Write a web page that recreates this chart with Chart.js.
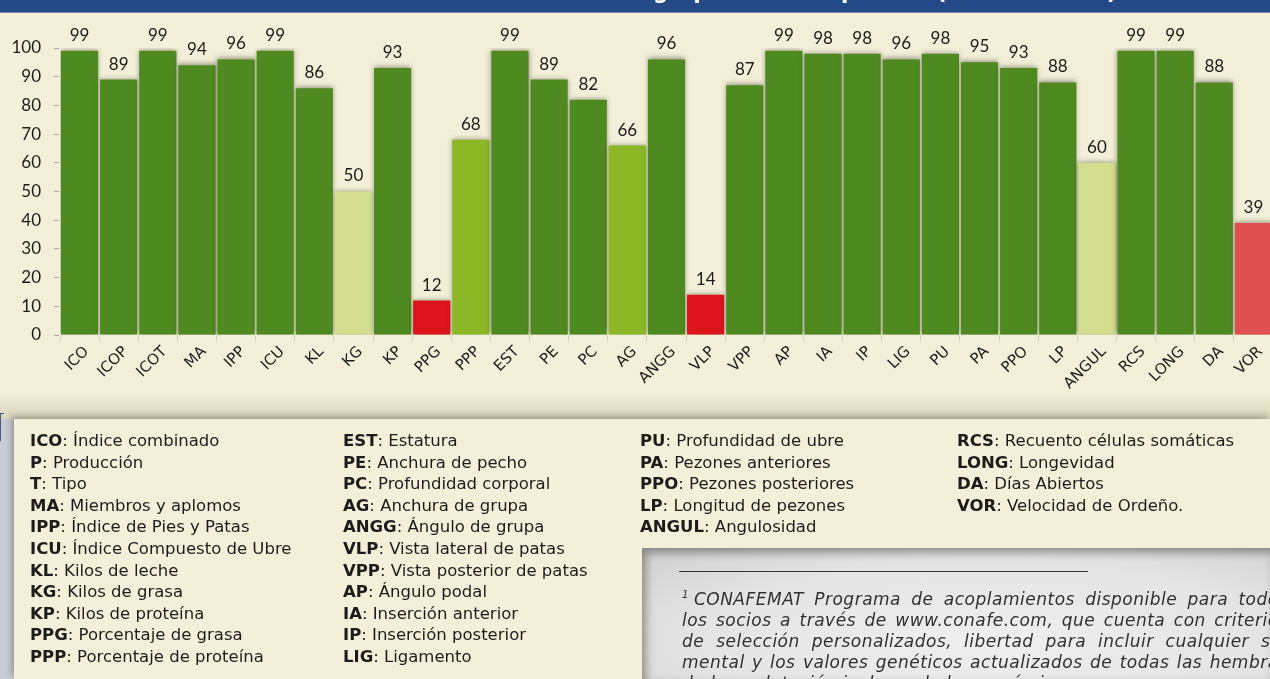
<!DOCTYPE html>
<html><head><meta charset="utf-8">
<script src="https://cdn.jsdelivr.net/npm/chart.js@4/dist/chart.umd.min.js"></script>
<style>
html,body{margin:0;padding:0;}
body{width:1270px;height:679px;overflow:hidden;position:relative;background:#f3efd8;font-family:"DejaVu Sans",Lato,sans-serif;color:#1c1c1c;}
#titlebar{position:absolute;left:0;top:0;width:1270px;height:12px;background:#234a87;border-bottom:1px solid #7088b0;overflow:hidden;}
#titlebar span{position:absolute;left:0;width:1290px;text-align:center;top:-20px;color:#fff;font-weight:bold;font-size:21px;line-height:24px;white-space:nowrap;}
#chartwrap{position:absolute;left:0;top:13px;width:1290px;height:397px;}
#shadowband{position:absolute;left:0;top:392px;width:1270px;height:27px;background:linear-gradient(#f3efd8,#d9d4bc);}
#leftgray{position:absolute;left:0;top:419px;width:14px;height:260px;background:#c9ccd1;}
#bluecorner{position:absolute;left:0;top:413px;width:3px;height:27px;border-top:1px solid #3a5a90;border-left:1px solid #3a5a90;}
#panel{position:absolute;left:14px;top:419px;width:1256px;height:260px;background:#f3efd8;box-shadow:-3px -3px 6px rgba(0,0,0,0.25);}
#graybox{position:absolute;left:642px;top:548px;width:628px;height:131px;background:radial-gradient(ellipse at 55% 70%,#efefef 0%,#e4e4e4 60%,#cfcfcf 100%);box-shadow:inset 4px 5px 9px rgba(0,0,0,0.35);}
.col{position:absolute;font-size:16.5px;line-height:21.6px;white-space:nowrap;}
.col b{font-weight:bold;}
#rule{position:absolute;left:679px;top:571px;width:409px;height:1px;background:#333;}
#foot{position:absolute;left:682px;top:584px;width:606px;font-size:17px;letter-spacing:0.5px;line-height:21px;font-style:italic;color:#303030;}
#foot div{text-align:justify;text-align-last:justify;white-space:nowrap;}
#foot div.last{text-align-last:left;}
#foot sup{font-size:10px;margin-right:5px;}
</style></head>
<body>
<div id="titlebar"><span>Fiabilidad media de los caracteres en el grupo de vacas paridas (hasta el 2012)</span></div>
<div id="chartwrap"><canvas id="c" width="1290" height="397"></canvas></div>
<div id="shadowband"></div>
<div id="leftgray"></div>
<div id="panel"></div>
<div id="bluecorner"></div>
<div class="col" style="left:30px;top:430px;">
<b>ICO</b>: Índice combinado<br><b>P</b>: Producción<br><b>T</b>: Tipo<br><b>MA</b>: Miembros y aplomos<br><b>IPP</b>: Índice de Pies y Patas<br><b>ICU</b>: Índice Compuesto de Ubre<br><b>KL</b>: Kilos de leche<br><b>KG</b>: Kilos de grasa<br><b>KP</b>: Kilos de proteína<br><b>PPG</b>: Porcentaje de grasa<br><b>PPP</b>: Porcentaje de proteína
</div>
<div class="col" style="left:343px;top:430px;">
<b>EST</b>: Estatura<br><b>PE</b>: Anchura de pecho<br><b>PC</b>: Profundidad corporal<br><b>AG</b>: Anchura de grupa<br><b>ANGG</b>: Ángulo de grupa<br><b>VLP</b>: Vista lateral de patas<br><b>VPP</b>: Vista posterior de patas<br><b>AP</b>: Ángulo podal<br><b>IA</b>: Inserción anterior<br><b>IP</b>: Inserción posterior<br><b>LIG</b>: Ligamento
</div>
<div class="col" style="left:640px;top:430px;">
<b>PU</b>: Profundidad de ubre<br><b>PA</b>: Pezones anteriores<br><b>PPO</b>: Pezones posteriores<br><b>LP</b>: Longitud de pezones<br><b>ANGUL</b>: Angulosidad
</div>
<div class="col" style="left:957px;top:430px;">
<b>RCS</b>: Recuento células somáticas<br><b>LONG</b>: Longevidad<br><b>DA</b>: Días Abiertos<br><b>VOR</b>: Velocidad de Ordeño.
</div>
<div id="graybox"></div>
<div id="rule"></div>
<div id="foot">
<div><sup>1</sup>CONAFEMAT Programa de acoplamientos disponible para todos</div>
<div>los socios a través de www.conafe.com, que cuenta con criterios</div>
<div>de selección personalizados, libertad para incluir cualquier se-</div>
<div>mental y los valores genéticos actualizados de todas las hembras</div>
<div class="last">de la explotación incluyendo las genómicas.</div>
</div>
<script>
const categories = ['ICO','ICOP','ICOT','MA','IPP','ICU','KL','KG','KP','PPG','PPP','EST','PE','PC','AG','ANGG','VLP','VPP','AP','IA','IP','LIG','PU','PA','PPO','LP','ANGUL','RCS','LONG','DA','VOR'];
const values = [99,89,99,94,96,99,86,50,93,12,68,99,89,82,66,96,14,87,99,98,98,96,98,95,93,88,60,99,99,88,39];
const yTickValues = [0,10,20,30,40,50,60,70,80,90,100];

function colorFor(v){
  if (v >= 80) return '#4f8a21';
  if (v >= 65) return '#8cb827';
  if (v >= 50) return '#d3df8e';
  if (v >= 20) return '#e05052';
  return '#dc141b';
}

const barShadow = {
  id:'barShadow',
  beforeDatasetsDraw(chart){ const c=chart.ctx; c.save(); c.shadowColor='rgba(60,60,40,0.55)'; c.shadowBlur=5; c.shadowOffsetX=0; c.shadowOffsetY=-1; },
  afterDatasetsDraw(chart){ chart.ctx.restore(); }
};
const valueLabels = {
  id:'valueLabels',
  afterDraw(chart){
    const c=chart.ctx; const meta=chart.getDatasetMeta(0);
    c.save(); c.font='17px Lato'; c.fillStyle='#1c1c1c'; c.textAlign='center'; c.textBaseline='bottom';
    meta.data.forEach((el,i)=>{ c.fillText(String(values[i]), el.x, el.y-7); });
    c.restore();
  }
};

new Chart(document.getElementById('c'), {
  type:'bar',
  data:{ labels:categories, datasets:[{ data:values, backgroundColor:values.map(colorFor), barPercentage:0.95, categoryPercentage:1.0, borderWidth:0 }]},
  options:{
    responsive:false, animation:false,
    layout:{padding:{top:35,right:17,left:0,bottom:0}},
    plugins:{legend:{display:false},tooltip:{enabled:false}},
    scales:{
      x:{
        grid:{display:true,drawOnChartArea:false,drawTicks:true,tickLength:6,tickColor:'#d2cdb4',offset:true},
        border:{display:false},
        ticks:{autoSkip:false,maxRotation:45,minRotation:45,color:'#1c1c1c',font:{family:'DejaVu Sans',size:15},padding:2,labelOffset:7},
        afterFit(s){ s.height=75; }
      },
      y:{
        min:0,max:100,
        afterBuildTicks(s){ s.ticks = yTickValues.map(v=>({value:v})); },
        ticks:{color:'#1c1c1c',font:{family:'Lato',size:17},padding:3},
        grid:{drawOnChartArea:false,tickLength:16,tickColor:'#aaa',tickBorderDash:[0.01,10,5,1]},
        border:{display:false},
        afterFit(s){ s.width=60; }
      }
    }
  },
  plugins:[barShadow,valueLabels]
});
</script>
</body></html>
